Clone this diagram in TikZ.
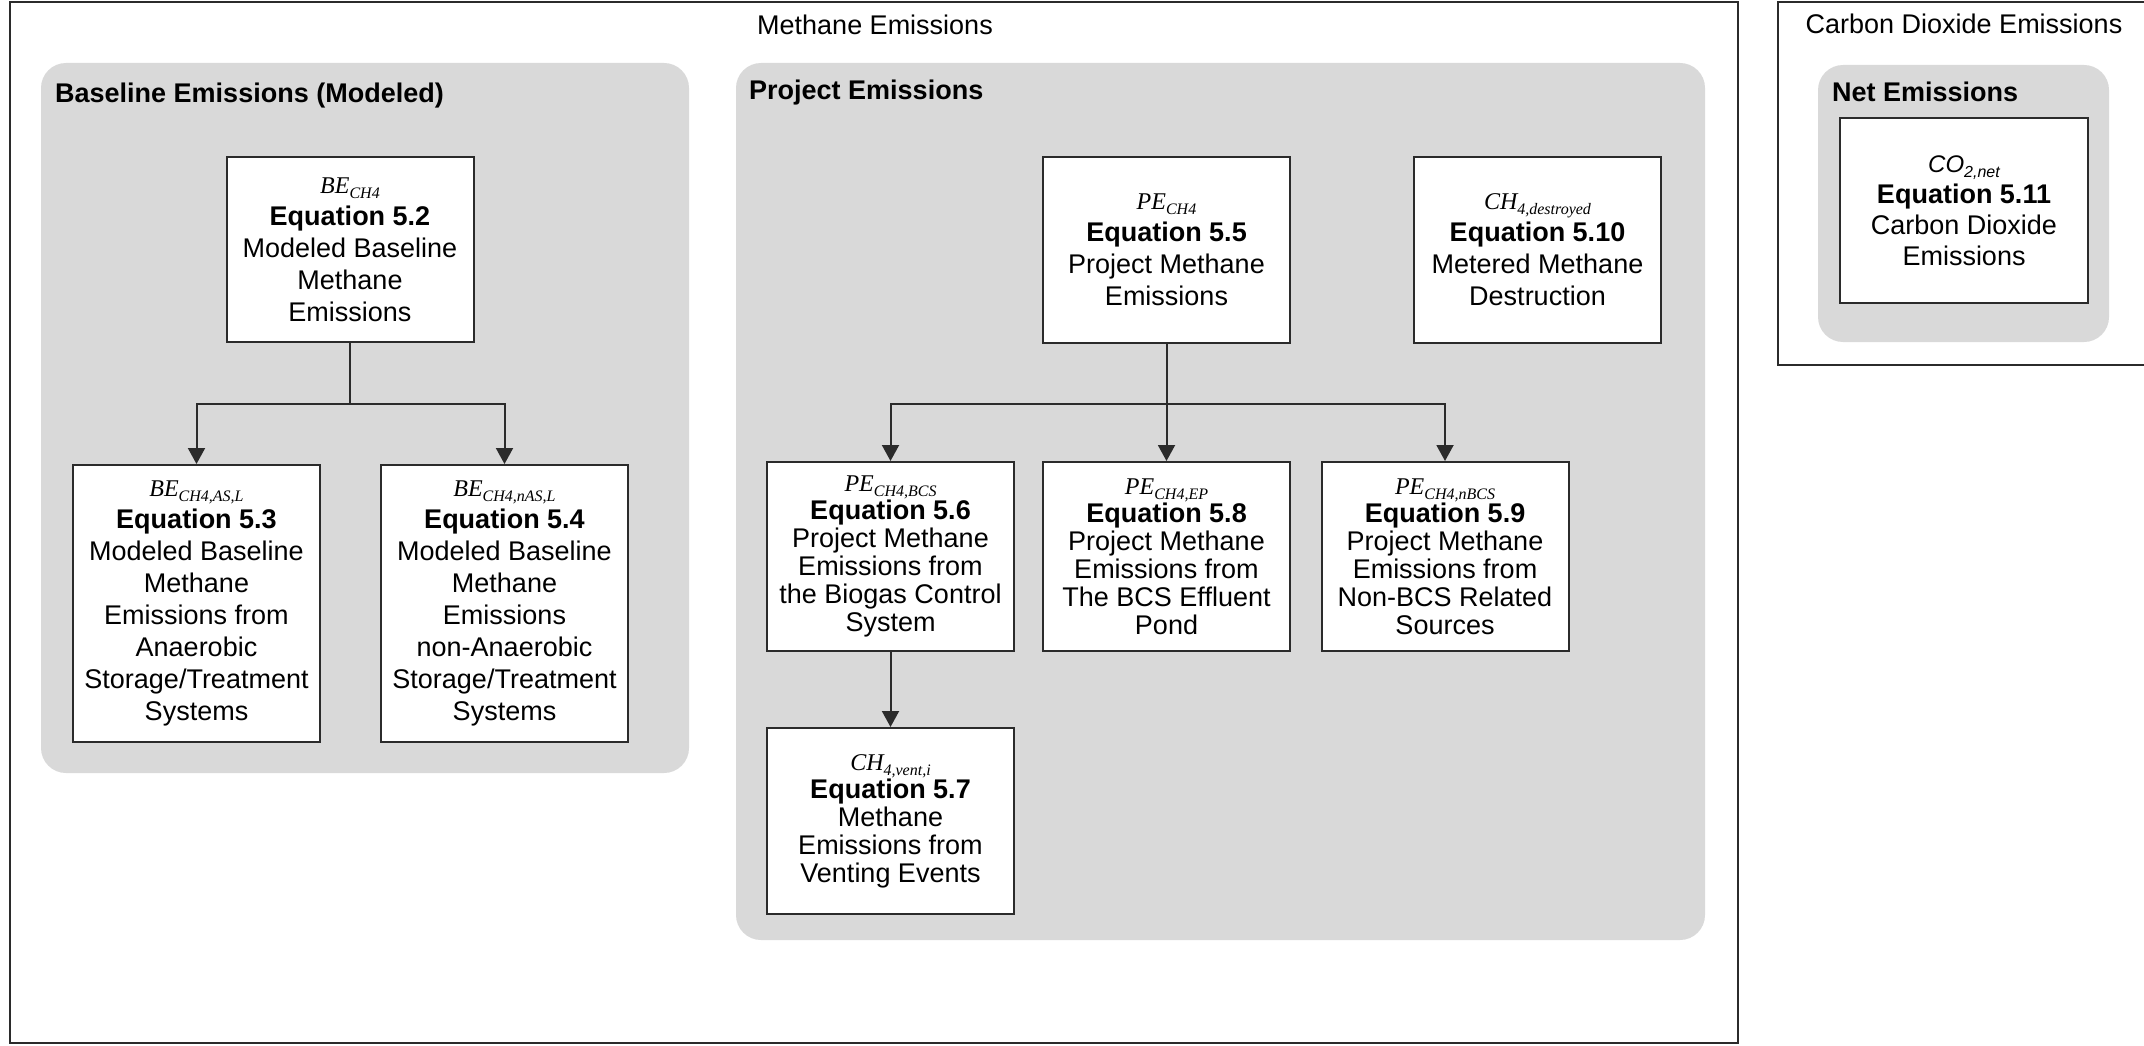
\documentclass[tikz,border=0pt]{standalone}
\usepackage{fontspec}
\setmainfont{Liberation Sans}
\newfontfamily\vserif{Liberation Serif}
\usetikzlibrary{arrows.meta}
\definecolor{grpfill}{HTML}{D9D9D9}
\definecolor{linec}{HTML}{2B2B2B}
\newcommand{\eqvar}[2]{{\vserif\itshape\fontsize{24}{32}\selectfont #1\raisebox{-5pt}{\fontsize{16}{16}\selectfont #2}}}
\newcommand{\eqvarsans}[2]{{\itshape\fontsize{24}{32}\selectfont #1\raisebox{-5pt}{\fontsize{16}{16}\selectfont #2}}}
\tikzset{
  grp/.style={fill=grpfill, draw=none, rounded corners=25pt},
  frame/.style={draw=linec, line width=2pt},
  eqbox/.style={draw=linec, line width=2pt, fill=white, minimum width=247pt, align=center, inner sep=4pt, font=\fontsize{27}{32}\selectfont},
  eqboxp/.style={eqbox, font=\fontsize{27}{28}\selectfont},
  conn/.style={draw=linec, line width=2pt},
  arr/.style={draw=linec, line width=2pt, -{Triangle[length=16pt,width=17pt]}},
  grptitle/.style={anchor=base west, font=\bfseries\fontsize{27}{32}\selectfont, inner sep=0pt},
  maintitle/.style={anchor=base, font=\fontsize{27}{32}\selectfont, inner sep=0pt}
}
\begin{document}
\begin{tikzpicture}[x=1pt,y=-1pt]
\useasboundingbox (0,0) rectangle (2144,1046);
\clip (0,0) rectangle (2144,1046);
\fill[white] (0,0) rectangle (2144,1046);

% outer frames
\draw[frame] (10,2) rectangle (1738,1043);
\draw[frame] (1778,2) rectangle (2152,365);
\node[maintitle] (tm) at (875,35) {Methane Emissions};
\node[maintitle] (tc) at (1964,34) {Carbon Dioxide Emissions};

% group backgrounds
\path[grp] (41,63) rectangle (689,773);
\path[grp] (736,63) rectangle (1705,940);
\path[grp] (1818,65) rectangle (2109,342);
\node[grptitle] (tb) at (55,103) {Baseline Emissions (Modeled)};
\node[grptitle] (tp) at (749,100) {Project Emissions};
\node[grptitle] (tn) at (1832,102) {Net Emissions};

% baseline boxes
\node[eqbox, minimum height=185pt] (be) at (350,249.5)
  {\eqvar{BE}{CH4}\\\textbf{Equation 5.2}\\Modeled Baseline\\Methane\\Emissions};
\node[eqbox, minimum height=277pt] (beas) at (196.5,603.5)
  {\eqvar{BE}{CH4,AS,L}\\\textbf{Equation 5.3}\\Modeled Baseline\\Methane\\Emissions from\\Anaerobic\\Storage/Treatment\\Systems};
\node[eqbox, minimum height=277pt] (benas) at (504.5,603.5)
  {\eqvar{BE}{CH4,nAS,L}\\\textbf{Equation 5.4}\\Modeled Baseline\\Methane\\Emissions\\non-Anaerobic\\Storage/Treatment\\Systems};

% project boxes
\node[eqbox, minimum height=186pt] (pe) at (1166.5,250)
  {\eqvar{PE}{CH4}\\\textbf{Equation 5.5}\\Project Methane\\Emissions};
\node[eqbox, minimum height=186pt] (ch4d) at (1537.5,250)
  {\eqvar{CH}{4,destroyed}\\\textbf{Equation 5.10}\\Metered Methane\\Destruction};
\node[eqboxp, minimum height=189pt] (pebcs) at (890.5,556.5)
  {\eqvar{PE}{CH4,BCS}\\\textbf{Equation 5.6}\\Project Methane\\Emissions from\\the Biogas Control\\System};
\node[eqboxp, minimum height=189pt] (peep) at (1166.5,556.5)
  {\eqvar{PE}{CH4,EP}\\\textbf{Equation 5.8}\\Project Methane\\Emissions from\\The BCS Effluent\\Pond};
\node[eqboxp, minimum height=189pt] (penbcs) at (1445,556.5)
  {\eqvar{PE}{CH4,nBCS}\\\textbf{Equation 5.9}\\Project Methane\\Emissions from\\Non-BCS Related\\Sources};
\node[eqboxp, minimum height=186pt] (vent) at (890.5,821)
  {\eqvar{CH}{4,vent,i}\\\textbf{Equation 5.7}\\Methane\\Emissions from\\Venting Events};

% net box
\node[eqbox, minimum width=248pt, minimum height=185pt, font=\fontsize{27}{31}\selectfont] (co2) at (1964,210.5)
  {\eqvarsans{CO}{2,net}\\\textbf{Equation 5.11}\\Carbon Dioxide\\Emissions};

% connectors
\coordinate (bj) at (350,404);
\draw[conn] (be.south) -- (bj);
\draw[arr] (bj) -| (beas.north);
\draw[arr] (bj) -| (benas.north);

\coordinate (pj) at (1166.5,404);
\draw[conn] (pe.south) -- (pj);
\draw[arr] (pj) -| (pebcs.north);
\draw[arr] (pj) -- (peep.north);
\draw[arr] (pj) -| (penbcs.north);
\draw[arr] (pebcs.south) -- (vent.north);
\end{tikzpicture}
\end{document}
